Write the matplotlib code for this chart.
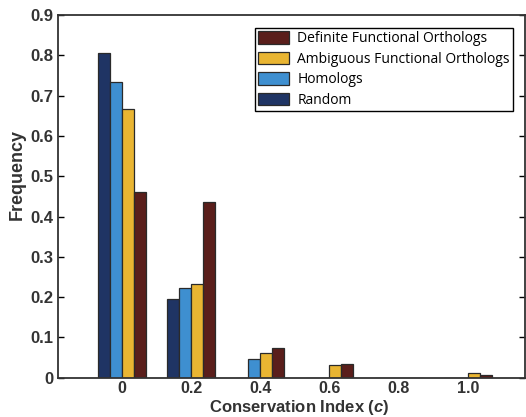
import numpy as np
import matplotlib.pyplot as plt

plt.rcParams["font.family"] = "Liberation Sans"
plt.rcParams["mathtext.fontset"] = "custom"
plt.rcParams["mathtext.it"] = "Liberation Sans:italic:bold"
plt.rcParams["mathtext.rm"] = "Liberation Sans:bold"

# conservation index bins and frequencies per group
bins = [0, 0.2, 0.4, 0.6, 0.8, 1.0]
tick_labels = ["0", "0.2", "0.4", "0.6", "0.8", "1.0"]
random_freq = [0.806, 0.196, 0.0, 0.0, 0.0, 0.0]
homologs = [0.733, 0.223, 0.046, 0.0, 0.0, 0.0]
ambiguous = [0.667, 0.232, 0.061, 0.032, 0.0, 0.013]
definite = [0.460, 0.435, 0.074, 0.035, 0.0, 0.006]

series = [
    ("Random", random_freq, "#1f3464"),
    ("Homologs", homologs, "#3e8fd0"),
    ("Ambiguous Functional Orthologs", ambiguous, "#e9b532"),
    ("Definite Functional Orthologs", definite, "#5a1e1b"),
]

fig = plt.figure(figsize=(5.26, 4.17), dpi=100)
ax = fig.add_axes([0.110, 0.094, 0.888, 0.870])

w = 0.0345
x = np.array(bins)
handles = {}
for i, (name, vals, col) in enumerate(series):
    b = ax.bar(x + (i - 1.5) * w, vals, width=w, color=col,
               edgecolor="#2a2a2a", linewidth=0.9, label=name)
    handles[name] = b

ax.set_xlim(-0.185, 1.165)
ax.set_ylim(0, 0.9)
ax.set_yticks(np.arange(0, 0.91, 0.1))
ax.set_yticklabels(["0"] + [f"{v:.1f}" for v in np.arange(0.1, 0.91, 0.1)])
ax.set_xticks(bins)
ax.set_xticklabels(tick_labels)
ax.tick_params(axis="y", direction="in", length=4, width=1, right=True,
               labelsize=12, pad=3)
ax.tick_params(axis="x", length=0, labelsize=11.5, pad=2)
for lab in ax.get_xticklabels() + ax.get_yticklabels():
    lab.set_fontweight("bold")
    lab.set_color("#333333")
for sp in ax.spines.values():
    sp.set_linewidth(1.3)
    sp.set_color("#333333")

ax.set_ylabel("Frequency", fontsize=13, fontweight="bold", color="#333333")
ax.yaxis.set_label_coords(-0.068, 0.56)
fig.text(0.568, 0.012, "Conservation Index ($\\mathit{c}$)", fontsize=12,
         fontweight="bold", color="#333333", ha="center", va="baseline")

order = ["Definite Functional Orthologs", "Ambiguous Functional Orthologs",
         "Homologs", "Random"]
leg = ax.legend([handles[n] for n in order], order, loc="upper right",
                bbox_to_anchor=(0.975, 0.965), fancybox=False,
                edgecolor="black", framealpha=1, handlelength=2.2,
                handleheight=1.0, labelspacing=0.4, borderpad=0.25,
                handletextpad=0.6, borderaxespad=0,
                prop={"family": "Open Sans", "size": 10})
leg.get_frame().set_linewidth(1.0)

fig.savefig("out.png", dpi=100)
